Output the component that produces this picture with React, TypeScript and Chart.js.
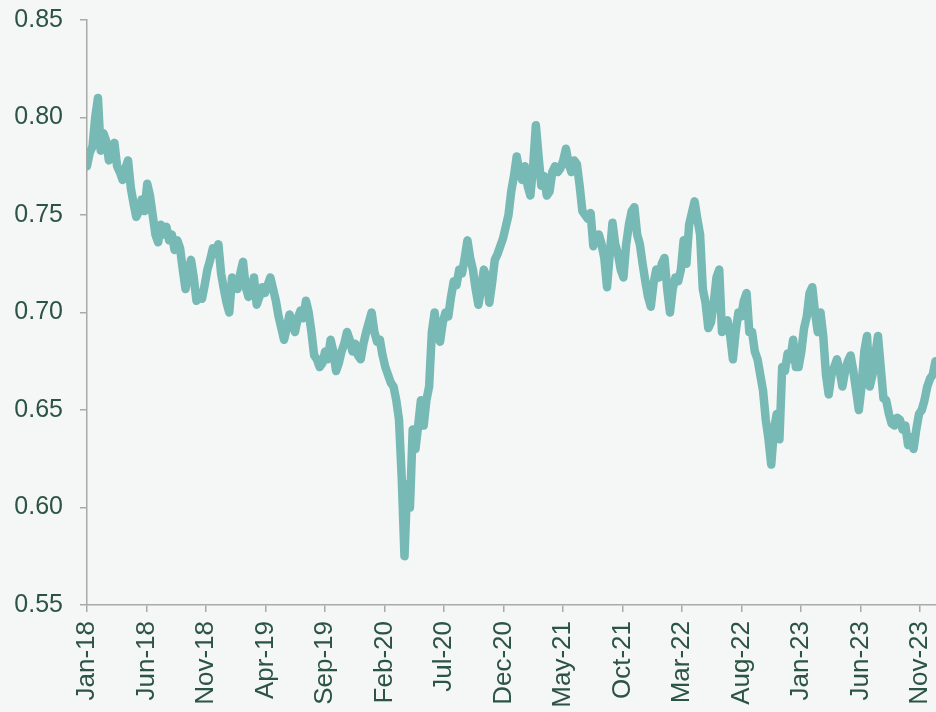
import React, { useEffect, useRef } from "react";
import { Chart, registerables } from "chart.js";

Chart.register(...registerables);

// Weekly AUD/USD-style closes (first week of Jan 2018 onward)
const rate2018 = [
  0.775, 0.782, 0.785, 0.800, 0.810, 0.783, 0.792, 0.788, 0.778, 0.780,
  0.787, 0.775, 0.772, 0.768, 0.774, 0.778, 0.764, 0.756, 0.749, 0.752,
  0.758, 0.752, 0.766, 0.760, 0.750, 0.740, 0.736, 0.745, 0.740, 0.744,
  0.737, 0.740, 0.732, 0.737, 0.733, 0.722, 0.712, 0.720, 0.727, 0.718,
  0.706, 0.710, 0.707, 0.714, 0.722, 0.727, 0.733, 0.730, 0.735, 0.720,
  0.712, 0.705,
];
const rate2019 = [
  0.700, 0.718, 0.714, 0.712, 0.720, 0.726, 0.713, 0.708, 0.712, 0.718,
  0.704, 0.708, 0.713, 0.710, 0.714, 0.718, 0.712, 0.706, 0.698, 0.692,
  0.686, 0.692, 0.699, 0.695, 0.690, 0.697, 0.701, 0.697, 0.706, 0.700,
  0.690, 0.678, 0.676, 0.672, 0.674, 0.680, 0.676, 0.686, 0.680, 0.670,
  0.674, 0.680, 0.684, 0.690, 0.686, 0.680, 0.684, 0.678, 0.676, 0.684,
  0.690, 0.695,
];
const rate2020 = [
  0.700, 0.690, 0.685, 0.686, 0.678, 0.672, 0.668, 0.664, 0.662, 0.655,
  0.645, 0.615, 0.575, 0.612, 0.600, 0.640, 0.630, 0.642, 0.655, 0.642,
  0.655, 0.662, 0.690, 0.700, 0.688, 0.685, 0.695, 0.700, 0.698, 0.708,
  0.716, 0.714, 0.722, 0.720, 0.728, 0.737, 0.728, 0.722, 0.712, 0.704,
  0.712, 0.722, 0.718, 0.705, 0.715, 0.727, 0.730, 0.734, 0.738, 0.744,
  0.750, 0.762,
];
const rate2021 = [
  0.770, 0.780, 0.772, 0.768, 0.775, 0.765, 0.760, 0.775, 0.796, 0.780,
  0.765, 0.770, 0.760, 0.762, 0.772, 0.775, 0.772, 0.774, 0.778, 0.784,
  0.776, 0.772, 0.778, 0.776, 0.765, 0.752, 0.750, 0.748, 0.751, 0.734,
  0.738, 0.740, 0.735, 0.728, 0.713, 0.730, 0.746, 0.735, 0.730, 0.722,
  0.718, 0.735, 0.745, 0.752, 0.754, 0.740, 0.735, 0.725, 0.716, 0.708,
  0.703, 0.715,
];
const rate2022 = [
  0.722, 0.718, 0.725, 0.728, 0.712, 0.700, 0.712, 0.718, 0.716, 0.722,
  0.737, 0.725, 0.745, 0.751, 0.757, 0.748, 0.740, 0.712, 0.705, 0.692,
  0.695, 0.705, 0.718, 0.722, 0.690, 0.692, 0.696, 0.688, 0.676, 0.690,
  0.700, 0.698, 0.706, 0.710, 0.690, 0.690, 0.680, 0.676, 0.668, 0.660,
  0.645, 0.635, 0.622, 0.640, 0.648, 0.635, 0.672, 0.670, 0.679, 0.676,
  0.686, 0.672,
];
const rate2023 = [
  0.672, 0.680, 0.692, 0.698, 0.710, 0.713, 0.700, 0.690, 0.700, 0.688,
  0.668, 0.658, 0.668, 0.672, 0.676, 0.670, 0.662, 0.670, 0.675, 0.678,
  0.670, 0.660, 0.650, 0.662, 0.680, 0.688, 0.662, 0.668, 0.678, 0.688,
  0.672, 0.656, 0.655, 0.648, 0.643, 0.642, 0.646, 0.645, 0.640, 0.642,
  0.632, 0.636, 0.630, 0.640, 0.648, 0.650, 0.655, 0.662, 0.666, 0.668,
  0.675,
];

const monthNames = ["Jan", "Feb", "Mar", "Apr", "May", "Jun", "Jul", "Aug", "Sep", "Oct", "Nov", "Dec"];
const yTicks = [0.55, 0.6, 0.65, 0.7, 0.75, 0.8, 0.85];
// month offsets from Jan 2018 that carry a label (every 5 months)
const xTickMonths = [0, 5, 10, 15, 20, 25, 30, 35, 40, 45, 50, 55, 60, 65, 70];

const allRates = [...rate2018, ...rate2019, ...rate2020, ...rate2021, ...rate2022, ...rate2023];
// x position in months since 1 Jan 2018 (one observation per week)
const points = allRates.map((v, i) => ({ x: (i * 7 * 12) / 365.25, y: v }));

const TEXT = "#2c5444";
const AXIS = "#a8aaa8";
const FONT = "'Liberation Sans', Arial, sans-serif";

export default function App() {
  const ref = useRef<HTMLCanvasElement | null>(null);

  useEffect(() => {
    document.body.style.margin = "0";
    const canvas = ref.current;
    if (!canvas) return;
    const chart = new Chart(canvas, {
      type: "line",
      data: {
        datasets: [
          {
            data: points,
            borderColor: "#77b9b4",
            borderWidth: 8.5,
            pointRadius: 0,
            borderCapStyle: "round",
            borderJoinStyle: "round",
            tension: 0,
            fill: false,
          },
        ],
      },
      options: {
        animation: false,
        responsive: false,
        devicePixelRatio: 1,
        parsing: false,
        layout: { padding: { top: 20, left: 0, right: 0, bottom: 0 } },
        plugins: { legend: { display: false }, tooltip: { enabled: false } },
        scales: {
          x: {
            type: "linear",
            min: 0,
            max: 71.34,
            afterBuildTicks: (s: any) => {
              s.ticks = xTickMonths.map((v) => ({ value: v }));
            },
            grid: { display: true, drawOnChartArea: false, drawTicks: true, tickLength: 7, color: AXIS, lineWidth: 1.5 },
            border: { display: true, color: AXIS, width: 1.5 },
            ticks: {
              autoSkip: false,
              minRotation: 90,
              maxRotation: 90,
              padding: 9,
              color: TEXT,
              font: { family: FONT, size: 26 },
              callback: (v: any) => {
                const n = Math.round(Number(v));
                return monthNames[n % 12] + "-" + (18 + Math.floor(n / 12));
              },
            },
            afterFit: (s: any) => {
              s.height = 107;
              s.paddingLeft = 0;
              s.paddingRight = 0;
            },
          },
          y: {
            type: "linear",
            min: 0.55,
            max: 0.85,
            afterBuildTicks: (s: any) => {
              s.ticks = yTicks.map((v) => ({ value: v }));
            },
            grid: { display: true, drawOnChartArea: false, drawTicks: true, tickLength: 7, color: AXIS, lineWidth: 1.5 },
            border: { display: true, color: AXIS, width: 1.5 },
            ticks: {
              padding: 17,
              color: TEXT,
              font: { family: FONT, size: 25 },
              callback: (v: any) => Number(v).toFixed(2),
            },
            afterFit: (s: any) => {
              s.width = 87;
              s.paddingTop = 0;
              s.paddingBottom = 0;
            },
          },
        },
      },
    });
    return () => chart.destroy();
  }, []);

  return (
    <div style={{ width: 936, height: 712, background: "#f5f7f6", position: "relative" }}>
      <canvas ref={ref} width={936} height={712} style={{ display: "block" }} />
    </div>
  );
}
